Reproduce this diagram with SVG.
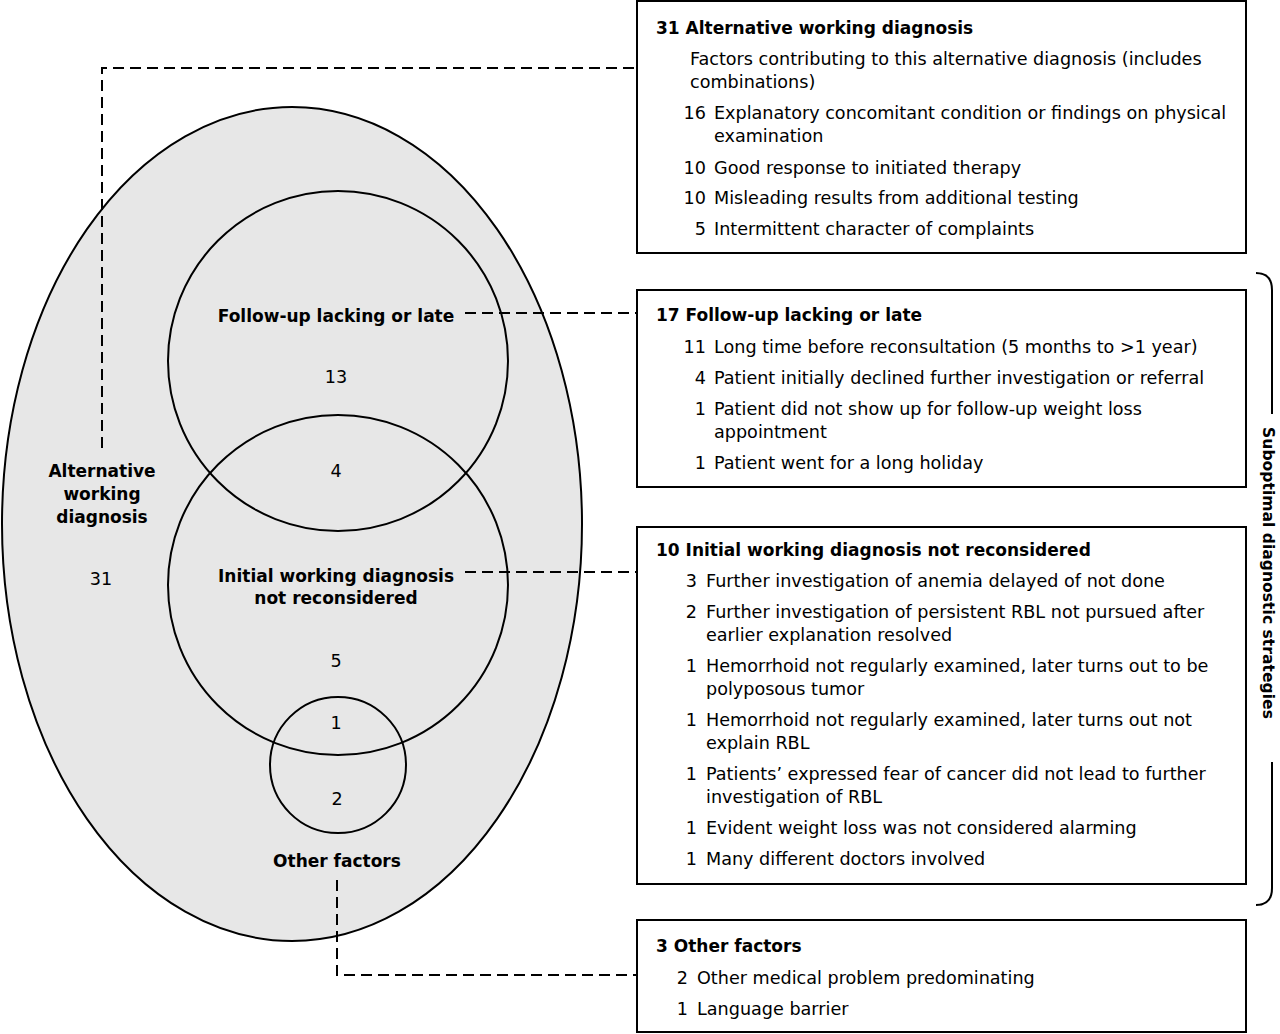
<svg xmlns="http://www.w3.org/2000/svg" width="1280" height="1034" viewBox="0 0 1280 1034">
<style>
text{font-family:"DejaVu Sans","Open Sans","Liberation Sans",sans-serif;font-size:17.6px;fill:#000}
.b{font-weight:bold;font-size:17px}
.c{text-anchor:middle}
.e{text-anchor:end}
.v{font-size:15.6px}
.box{fill:#fff;stroke:#000;stroke-width:2}
.ring{fill:none;stroke:#000;stroke-width:2}
.dash{fill:none;stroke:#000;stroke-width:2;stroke-dasharray:11 6}
</style>
<rect width="1280" height="1034" fill="#fff"/>
<g id="venn">
<ellipse id="alt-ellipse" cx="292" cy="524" rx="290" ry="417" fill="#e7e7e7" stroke="#000" stroke-width="2"/>
<circle id="followup-circle" class="ring" cx="338" cy="361" r="170"/>
<circle id="initial-circle" class="ring" cx="338" cy="585" r="170"/>
<circle id="other-circle" class="ring" cx="338" cy="765" r="68"/>
<text class="b c" x="336" y="322">Follow-up lacking or late</text>
<text class="c" x="336" y="383">13</text>
<text class="c" x="336" y="477">4</text>
<text class="b c" x="102" y="477">Alternative</text>
<text class="b c" x="102" y="500">working</text>
<text class="b c" x="102" y="523">diagnosis</text>
<text class="c" x="101" y="585">31</text>
<text class="b c" x="336" y="582">Initial working diagnosis</text>
<text class="b c" x="336" y="604">not reconsidered</text>
<text class="c" x="336" y="667">5</text>
<text class="c" x="336" y="729">1</text>
<text class="c" x="337" y="805">2</text>
<text class="b c" x="337" y="867">Other factors</text>
</g>
<g id="connectors">
<path class="dash" d="M102,448 V68 H637"/>
<path class="dash" d="M465,313 H637"/>
<path class="dash" d="M465,572 H637"/>
<path class="dash" d="M337,880 V975 H637"/>
</g>
<g id="box-alternative">
<rect class="box" x="637" y="1" width="609" height="252"/>
<text class="b" x="656" y="34">31  Alternative working diagnosis</text>
<text x="690" y="65">Factors contributing to this alternative diagnosis (includes</text>
<text x="690" y="88">combinations)</text>
<text class="e" x="706" y="119">16</text>
<text x="714" y="119">Explanatory concomitant condition or findings on physical</text>
<text x="714" y="142">examination</text>
<text class="e" x="706" y="174">10</text>
<text x="714" y="174">Good response to initiated therapy</text>
<text class="e" x="706" y="204">10</text>
<text x="714" y="204">Misleading results from additional testing</text>
<text class="e" x="706" y="235">5</text>
<text x="714" y="235">Intermittent character of complaints</text>
</g>
<g id="box-followup">
<rect class="box" x="637" y="290" width="609" height="197"/>
<text class="b" x="656" y="321">17  Follow-up lacking or late</text>
<text class="e" x="706" y="353">11</text>
<text x="714" y="353">Long time before reconsultation (5 months to &gt;1 year)</text>
<text class="e" x="706" y="384">4</text>
<text x="714" y="384">Patient initially declined further investigation or referral</text>
<text class="e" x="706" y="415">1</text>
<text x="714" y="415">Patient did not show up for follow-up weight loss</text>
<text x="714" y="438">appointment</text>
<text class="e" x="706" y="469">1</text>
<text x="714" y="469">Patient went for a long holiday</text>
</g>
<g id="box-initial">
<rect class="box" x="637" y="527" width="609" height="357"/>
<text class="b" x="656" y="556">10  Initial working diagnosis not reconsidered</text>
<text class="e" x="697" y="587">3</text>
<text x="706" y="587">Further investigation of anemia delayed of not done</text>
<text class="e" x="697" y="618">2</text>
<text x="706" y="618">Further investigation of persistent RBL not pursued after</text>
<text x="706" y="641">earlier explanation resolved</text>
<text class="e" x="697" y="672">1</text>
<text x="706" y="672">Hemorrhoid not regularly examined, later turns out to be</text>
<text x="706" y="695">polyposous tumor</text>
<text class="e" x="697" y="726">1</text>
<text x="706" y="726">Hemorrhoid not regularly examined, later turns out not</text>
<text x="706" y="749">explain RBL</text>
<text class="e" x="697" y="780">1</text>
<text x="706" y="780">Patients’ expressed fear of cancer did not lead to further</text>
<text x="706" y="803">investigation of RBL</text>
<text class="e" x="697" y="834">1</text>
<text x="706" y="834">Evident weight loss was not considered alarming</text>
<text class="e" x="697" y="865">1</text>
<text x="706" y="865">Many different doctors involved</text>
</g>
<g id="box-other">
<rect class="box" x="637" y="920" width="609" height="112"/>
<text class="b" x="656" y="952">3  Other factors</text>
<text class="e" x="688" y="984">2</text>
<text x="697" y="984">Other medical problem predominating</text>
<text class="e" x="688" y="1015">1</text>
<text x="697" y="1015">Language barrier</text>
</g>
<g id="bracket">
<path d="M1256,273 Q1272,273 1272,290 V414 M1272,762 V888 Q1272,905 1256,905" fill="none" stroke="#000" stroke-width="2"/>
<text class="b c v" transform="translate(1263,573) rotate(90)">Suboptimal diagnostic strategies</text>
</g>
</svg>
